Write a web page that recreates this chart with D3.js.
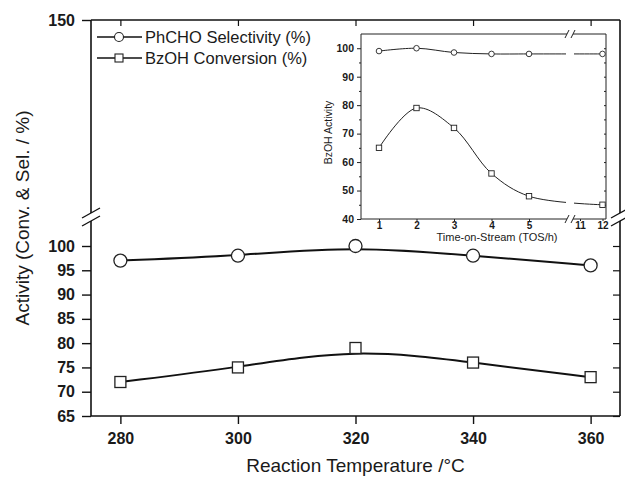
<!DOCTYPE html>
<html lang="en">
<head>
  <meta charset="UTF-8">
  <title>Activity vs Reaction Temperature - D3</title>
  <script src="https://d3js.org/d3.v7.min.js"></script>
  <style>
    body {
      margin: 0;
      background-color: #fff;
    }
    svg text {
      font-family: Arial, "Liberation Sans", Helvetica, sans-serif;
      fill: #1a1a1a;
    }
    .tick-label {
      font-weight: bold;
    }
  </style>
</head>
<body>
  <script>
    // main chart data
    var temps = [280, 300, 320, 340, 360];
    var selectivity = [97, 98, 100, 98, 96];
    var conversion = [72, 75, 79, 76, 73];
    var yTicks = [65, 70, 75, 80, 85, 90, 95, 100];
    var yTopTicks = [150];

    // inset data (time on stream)
    var tosHours = [1, 2, 3, 4, 5, 12];
    var tosSelectivity = [99, 100, 98.5, 98, 98, 98];
    var tosConversion = [65, 79, 72, 56, 48, 45];
    var tosTicks = [1, 2, 3, 4, 5, 11, 12];
    var insetYTicks = [40, 50, 60, 70, 80, 90, 100];

    var W = 625, H = 479;
    var pLeft = 91, pRight = 620, pTop = 20, pBottom = 416;
    var breakY = 217;

    var svg = d3.select("body")
                .append("svg")
                .attr("width", W)
                .attr("height", H);

    var x = d3.scaleLinear().domain([275, 365]).range([pLeft, pRight]);
    var y = d3.scaleLinear().domain([65, 100]).range([pBottom, 246]);
    var yTop = d3.scaleLinear().domain([110, 150]).range([breakY - 4, pTop]);

    // frame: top + bottom
    svg.append("line").attr("x1", pLeft).attr("x2", pRight).attr("y1", pTop).attr("y2", pTop)
       .attr("stroke", "#111").attr("stroke-width", 1.6);
    svg.append("line").attr("x1", pLeft).attr("x2", pRight).attr("y1", pBottom).attr("y2", pBottom)
       .attr("stroke", "#111").attr("stroke-width", 1.6);
    // left + right with a gap at the break
    [pLeft, pRight].forEach(function(px) {
      svg.append("line").attr("x1", px).attr("x2", px).attr("y1", pTop).attr("y2", breakY - 4)
         .attr("stroke", "#111").attr("stroke-width", 1.6);
      svg.append("line").attr("x1", px).attr("x2", px).attr("y1", breakY + 4).attr("y2", pBottom)
         .attr("stroke", "#111").attr("stroke-width", 1.6);
      [-4, 4].forEach(function(dy) {
        svg.append("line")
           .attr("x1", px - 9).attr("y1", breakY + dy + 5)
           .attr("x2", px + 9).attr("y2", breakY + dy - 5)
           .attr("stroke", "#111").attr("stroke-width", 1.4);
      });
    });

    // Axe X (bottom, outward ticks)
    var xAxis = svg.append("g")
       .attr("transform", "translate(0," + pBottom + ")")
       .call(d3.axisBottom(x).tickValues(temps).tickSize(8).tickPadding(9));
    xAxis.select(".domain").remove();
    xAxis.selectAll("line").attr("stroke", "#111").attr("stroke-width", 1.4);
    xAxis.selectAll("text").attr("class", "tick-label").style("font-size", "16px");

    // top mirror ticks
    var xTop = svg.append("g")
       .attr("transform", "translate(0," + pTop + ")")
       .call(d3.axisBottom(x).tickValues(temps).tickSize(6).tickFormat(""));
    xTop.select(".domain").remove();
    xTop.selectAll("line").attr("stroke", "#111").attr("stroke-width", 1.2);

    // Axe Y lower segment
    var yAxis = svg.append("g")
       .attr("transform", "translate(" + pLeft + ",0)")
       .call(d3.axisLeft(y).tickValues(yTicks).tickSize(9).tickPadding(7));
    yAxis.select(".domain").remove();
    yAxis.selectAll("line").attr("stroke", "#111").attr("stroke-width", 1.4);
    yAxis.selectAll("text").attr("class", "tick-label").style("font-size", "16px");

    // Axe Y upper segment
    var yAxisTop = svg.append("g")
       .attr("transform", "translate(" + pLeft + ",0)")
       .call(d3.axisLeft(yTop).tickValues(yTopTicks).tickSize(9).tickPadding(7));
    yAxisTop.select(".domain").remove();
    yAxisTop.selectAll("line").attr("stroke", "#111").attr("stroke-width", 1.4);
    yAxisTop.selectAll("text").attr("class", "tick-label").style("font-size", "16px");

    // right mirror ticks
    var yRight = svg.append("g")
       .attr("transform", "translate(" + pRight + ",0)")
       .call(d3.axisRight(y).tickValues(yTicks).tickSize(-7).tickFormat(""));
    yRight.select(".domain").remove();
    yRight.selectAll("line").attr("stroke", "#111").attr("stroke-width", 1.2);

    // titles
    svg.append("text")
       .attr("transform", "translate(29," + ((pTop + pBottom) / 2) + ") rotate(-90)")
       .attr("text-anchor", "middle")
       .style("font-size", "19px")
       .text("Activity (Conv. & Sel. / %)");

    svg.append("text")
       .attr("x", (pLeft + pRight) / 2)
       .attr("y", 472)
       .attr("text-anchor", "middle")
       .style("font-size", "19px")
       .text("Reaction Temperature /\u00B0C");

    // Courbes
    var line = d3.line()
       .x(function(d) { return x(d[0]); })
       .y(function(d) { return y(d[1]); })
       .curve(d3.curveBasis);

    var selData = temps.map(function(t, i) { return [t, selectivity[i]]; });
    var convData = temps.map(function(t, i) { return [t, conversion[i]]; });

    [selData, convData].forEach(function(data) {
      svg.append("path").datum(data)
         .attr("d", line)
         .attr("fill", "none")
         .attr("stroke", "#111")
         .attr("stroke-width", 2);
    });

    svg.selectAll(".sel-pt")
       .data(selData).enter()
       .append("circle")
       .attr("class", "sel-pt")
       .attr("cx", function(d) { return x(d[0]); })
       .attr("cy", function(d) { return y(d[1]); })
       .attr("r", 6.5)
       .attr("fill", "#fff").attr("stroke", "#222").attr("stroke-width", 1.3);

    svg.selectAll(".conv-pt")
       .data(convData).enter()
       .append("rect")
       .attr("class", "conv-pt")
       .attr("x", function(d) { return x(d[0]) - 5.5; })
       .attr("y", function(d) { return y(d[1]) - 5.5; })
       .attr("width", 11).attr("height", 11)
       .attr("fill", "#fff").attr("stroke", "#222").attr("stroke-width", 1.3);

    // Légende
    var legendRows = [
      { label: "PhCHO Selectivity (%)", shape: "circle", y: 37 },
      { label: "BzOH Conversion (%)", shape: "square", y: 58 }
    ];
    legendRows.forEach(function(r) {
      svg.append("line").attr("x1", 97).attr("x2", 142).attr("y1", r.y).attr("y2", r.y)
         .attr("stroke", "#111").attr("stroke-width", 1.6);
      if (r.shape === "circle") {
        svg.append("circle").attr("cx", 119).attr("cy", r.y).attr("r", 4.5)
           .attr("fill", "#fff").attr("stroke", "#222").attr("stroke-width", 1.1);
      } else {
        svg.append("rect").attr("x", 115).attr("y", r.y - 4).attr("width", 8).attr("height", 8)
           .attr("fill", "#fff").attr("stroke", "#222").attr("stroke-width", 1.1);
      }
      svg.append("text").attr("x", 145).attr("y", r.y + 6)
         .style("font-size", "16.5px")
         .text(r.label);
    });

    // ---------- Inset ----------
    var ix0 = 361, iy0 = 34, iw = 245, ih = 185;
    var inset = svg.append("g").attr("transform", "translate(" + ix0 + "," + iy0 + ")");
    var ibreak = 209;

    inset.append("rect").attr("width", iw).attr("height", ih).attr("fill", "#fff");

    var ix = d3.scaleLinear().domain([1, 5, 11, 12]).range([18, 168, 219, 241.5]);
    var iy = d3.scaleLinear().domain([40, 105]).range([ih, 0]);

    // frame
    inset.append("line").attr("x1", 0).attr("x2", 0).attr("y1", 0).attr("y2", ih)
       .attr("stroke", "#222").attr("stroke-width", 1);
    inset.append("line").attr("x1", iw).attr("x2", iw).attr("y1", 0).attr("y2", ih)
       .attr("stroke", "#222").attr("stroke-width", 1);
    [0, ih].forEach(function(py) {
      inset.append("line").attr("x1", 0).attr("x2", ibreak - 3).attr("y1", py).attr("y2", py)
         .attr("stroke", "#222").attr("stroke-width", 1);
      inset.append("line").attr("x1", ibreak + 3).attr("x2", iw).attr("y1", py).attr("y2", py)
         .attr("stroke", "#222").attr("stroke-width", 1);
      [-3, 3].forEach(function(dx) {
        inset.append("line")
           .attr("x1", ibreak + dx - 2).attr("y1", py + 4)
           .attr("x2", ibreak + dx + 2).attr("y2", py - 4)
           .attr("stroke", "#222").attr("stroke-width", 1);
      });
    });

    var iyAxis = inset.append("g")
       .call(d3.axisLeft(iy).tickValues(insetYTicks).tickSize(4).tickPadding(3));
    iyAxis.select(".domain").remove();
    iyAxis.selectAll("line").attr("stroke", "#222");
    iyAxis.selectAll("text").attr("class", "tick-label").style("font-size", "10.5px");

    var iyMinor = inset.append("g")
       .call(d3.axisLeft(iy).tickValues(d3.range(45, 105, 10)).tickSize(2).tickFormat(""));
    iyMinor.select(".domain").remove();
    iyMinor.selectAll("line").attr("stroke", "#222");

    var iyRight = inset.append("g")
       .attr("transform", "translate(" + iw + ",0)")
       .call(d3.axisRight(iy).tickValues(d3.range(45, 105, 5)).tickSize(-2).tickFormat(""));
    iyRight.select(".domain").remove();
    iyRight.selectAll("line").attr("stroke", "#222");

    var ixAxis = inset.append("g")
       .attr("transform", "translate(0," + ih + ")")
       .call(d3.axisBottom(ix).tickValues(tosTicks).tickFormat(d3.format("d")).tickSize(2).tickPadding(1));
    ixAxis.select(".domain").remove();
    ixAxis.selectAll("line").attr("stroke", "#222");
    ixAxis.selectAll("text").attr("class", "tick-label").style("font-size", "10px");

    inset.append("text")
       .attr("x", 136).attr("y", ih + 22)
       .attr("text-anchor", "middle")
       .style("font-size", "11px")
       .text("Time-on-Stream (TOS/h)");

    inset.append("text")
       .attr("transform", "translate(-29," + (ih / 2 + 6) + ") rotate(-90)")
       .attr("text-anchor", "middle")
       .style("font-size", "10.5px")
       .text("BzOH Activity");

    // clip to open a gap in the curves at the axis break
    var clip = svg.append("defs").append("clipPath").attr("id", "insetGap");
    clip.append("rect").attr("x", 0).attr("y", -5).attr("width", ibreak - 4).attr("height", ih + 10);
    clip.append("rect").attr("x", ibreak + 4).attr("y", -5).attr("width", iw - ibreak - 4).attr("height", ih + 10);

    var iline = d3.line()
       .x(function(d) { return ix(d[0]); })
       .y(function(d) { return iy(d[1]); })
       .curve(d3.curveCatmullRom.alpha(0.5));

    var tSel = tosHours.map(function(h, i) { return [h, tosSelectivity[i]]; });
    var tConv = tosHours.map(function(h, i) { return [h, tosConversion[i]]; });

    [tSel, tConv].forEach(function(data) {
      inset.append("path").datum(data)
         .attr("d", iline)
         .attr("clip-path", "url(#insetGap)")
         .attr("fill", "none")
         .attr("stroke", "#222")
         .attr("stroke-width", 1);
    });

    inset.selectAll(".tsel")
       .data(tSel).enter()
       .append("circle")
       .attr("cx", function(d) { return ix(d[0]); })
       .attr("cy", function(d) { return iy(d[1]); })
       .attr("r", 2.8)
       .attr("fill", "#fff").attr("stroke", "#222").attr("stroke-width", 0.9);

    inset.selectAll(".tconv")
       .data(tConv).enter()
       .append("rect")
       .attr("x", function(d) { return ix(d[0]) - 2.7; })
       .attr("y", function(d) { return iy(d[1]) - 2.7; })
       .attr("width", 5.4).attr("height", 5.4)
       .attr("fill", "#fff").attr("stroke", "#222").attr("stroke-width", 0.9);
  </script>
</body>
</html>
